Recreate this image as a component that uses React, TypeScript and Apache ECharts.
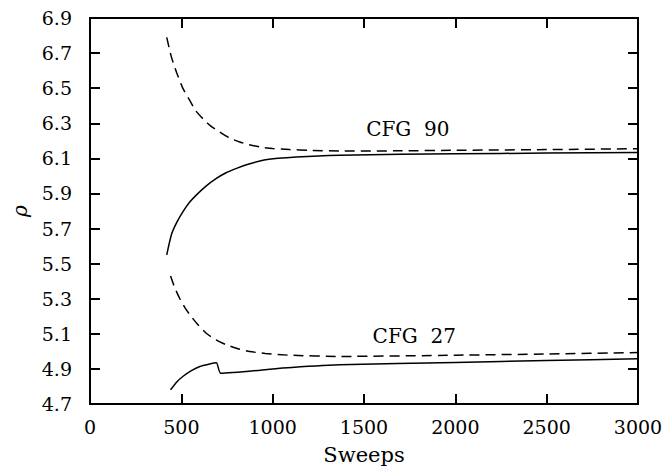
import React, { useEffect, useRef } from "react";
import * as echarts from "echarts";

// CFG 90 (upper pair)
const cfg90DashedX = [420, 445, 474, 508, 546, 580, 619, 660, 710, 760, 820, 870, 929, 1000, 1093, 1200, 1366, 1700, 2000, 2500, 3000];
const cfg90DashedY = [6.79, 6.68, 6.59, 6.5, 6.43, 6.37, 6.325, 6.285, 6.25, 6.218, 6.193, 6.178, 6.165, 6.156, 6.15, 6.146, 6.142, 6.143, 6.146, 6.15, 6.155];
const cfg90SolidX = [420, 446, 475, 510, 545, 583, 635, 692, 745, 802, 870, 947, 1030, 1129, 1250, 1366, 1700, 2000, 2500, 3000];
const cfg90SolidY = [5.55, 5.666, 5.735, 5.798, 5.85, 5.892, 5.942, 5.986, 6.018, 6.043, 6.068, 6.089, 6.1, 6.108, 6.114, 6.118, 6.123, 6.126, 6.13, 6.133];

// CFG 27 (lower pair)
const cfg27DashedX = [441, 465, 492, 522, 556, 595, 638, 690, 747, 810, 874, 960, 1093, 1366, 2000, 2500, 3000];
const cfg27DashedY = [5.43, 5.36, 5.3, 5.245, 5.196, 5.147, 5.102, 5.066, 5.037, 5.015, 4.999, 4.988, 4.978, 4.971, 4.978, 4.985, 4.993];
const cfg27SolidX = [441, 475, 510, 555, 601, 650, 692, 716, 1056, 1366, 2000, 2500, 3000];
const cfg27SolidY = [4.781, 4.826, 4.858, 4.89, 4.914, 4.927, 4.935, 4.875, 4.905, 4.924, 4.937, 4.948, 4.958];

// axis ranges / ticks
const X_MIN = 0;
const X_MAX = 3000;
const X_STEP = 500;
const Y_MIN = 4.7;
const Y_MAX = 6.9;
const Y_STEP = 0.2;
const xTicks = [0, 500, 1000, 1500, 2000, 2500, 3000];
const yTicks = [4.7, 4.9, 5.1, 5.3, 5.5, 5.7, 5.9, 6.1, 6.3, 6.5, 6.7, 6.9];

const labels = [
  { text: "CFG  90", x: 1740, y: 6.268 },
  { text: "CFG  27", x: 1775, y: 5.089 },
];

const FONT = "DejaVu Serif";
const GRID = { left: 90, right: 29, top: 18, bottom: 62 };
const W = 667;
const H = 470;
const TICK_PX = 10;

const zip = (xs: number[], ys: number[]) => xs.map((x, i) => [x, ys[i]]);

export default function App() {
  const ref = useRef<HTMLDivElement>(null);
  useEffect(() => {
    if (!ref.current) return;
    const chart = echarts.init(ref.current, null, { renderer: "svg" });
    const plotW = W - GRID.left - GRID.right;
    const plotH = H - GRID.top - GRID.bottom;
    const dx = (TICK_PX * (X_MAX - X_MIN)) / plotW;
    const dy = (TICK_PX * (Y_MAX - Y_MIN)) / plotH;

    // tick marks on all four sides, in data coordinates
    const tickSegs: any[] = [];
    xTicks.forEach((v) => {
      tickSegs.push([{ coord: [v, Y_MIN] }, { coord: [v, Y_MIN + dy] }]);
      tickSegs.push([{ coord: [v, Y_MAX] }, { coord: [v, Y_MAX - dy] }]);
    });
    yTicks.forEach((v) => {
      tickSegs.push([{ coord: [X_MIN, v] }, { coord: [X_MIN + dx, v] }]);
      tickSegs.push([{ coord: [X_MAX, v] }, { coord: [X_MAX - dx, v] }]);
    });

    const lineSeries = (name: string, data: number[][], dashed: boolean, extra: any = {}) => ({
      name,
      type: "line",
      data,
      showSymbol: false,
      symbol: "none",
      smooth: 0.2,
      lineStyle: { color: "#000", width: 1.5, type: dashed ? [10, 6] : "solid" },
      ...extra,
    });
    chart.setOption({
      animation: false,
      grid: { ...GRID, show: true, borderColor: "#000", borderWidth: 2 },
      xAxis: {
        type: "value",
        min: X_MIN,
        max: X_MAX,
        interval: X_STEP,
        axisLine: { show: true, lineStyle: { color: "#000", width: 2 } },
        axisTick: { show: true, inside: true, length: TICK_PX, lineStyle: { color: "#000", width: 2 } },
        axisLabel: {
          formatter: (v: number) => String(Math.round(v)),
          color: "#000",
          fontFamily: FONT,
          fontSize: 19,
          margin: 13,
        },
        splitLine: { show: false },
        name: "Sweeps",
        nameLocation: "middle",
        nameGap: 40,
        nameTextStyle: { color: "#000", fontFamily: FONT, fontSize: 21 },
      },
      yAxis: {
        type: "value",
        min: Y_MIN,
        max: Y_MAX,
        interval: Y_STEP,
        axisLine: { show: true, lineStyle: { color: "#000", width: 2 } },
        axisTick: { show: true, inside: true, length: TICK_PX, lineStyle: { color: "#000", width: 2 } },
        axisLabel: {
          formatter: (v: number) => v.toFixed(1),
          color: "#000",
          fontFamily: FONT,
          fontSize: 19,
          margin: 18,
        },
        splitLine: { show: false },
        name: "ρ",
        nameLocation: "middle",
        nameRotate: 90,
        nameGap: 60,
        nameTextStyle: { color: "#000", fontFamily: FONT, fontSize: 20, fontStyle: "italic" },
      },
      series: [
        lineSeries("CFG 90 dashed", zip(cfg90DashedX, cfg90DashedY), true),
        lineSeries("CFG 90 solid", zip(cfg90SolidX, cfg90SolidY), false),
        lineSeries("CFG 27 dashed", zip(cfg27DashedX, cfg27DashedY), true),
        lineSeries("CFG 27 solid", zip(cfg27SolidX, cfg27SolidY), false, {
          markLine: {
            silent: true,
            symbol: ["none", "none"],
            label: { show: false },
            lineStyle: { color: "#000", width: 2, type: "solid" },
            data: tickSegs,
          },
        }),
      ],
    });

    // curve annotations, placed through the chart's own scales
    const texts = labels.map((l) => {
      const p = chart.convertToPixel({ gridIndex: 0 }, [l.x, l.y]) as number[];
      return {
        type: "text",
        x: p[0],
        y: p[1],
        style: {
          text: l.text,
          fill: "#000",
          font: `20px "${FONT}"`,
          textAlign: "center",
          textVerticalAlign: "middle",
        },
      };
    });
    chart.setOption({ graphic: texts });

    return () => chart.dispose();
  }, []);
  return (
    <div
      ref={ref}
      style={{ position: "fixed", left: 0, top: 0, width: W, height: H, background: "#fff" }}
    />
  );
}
